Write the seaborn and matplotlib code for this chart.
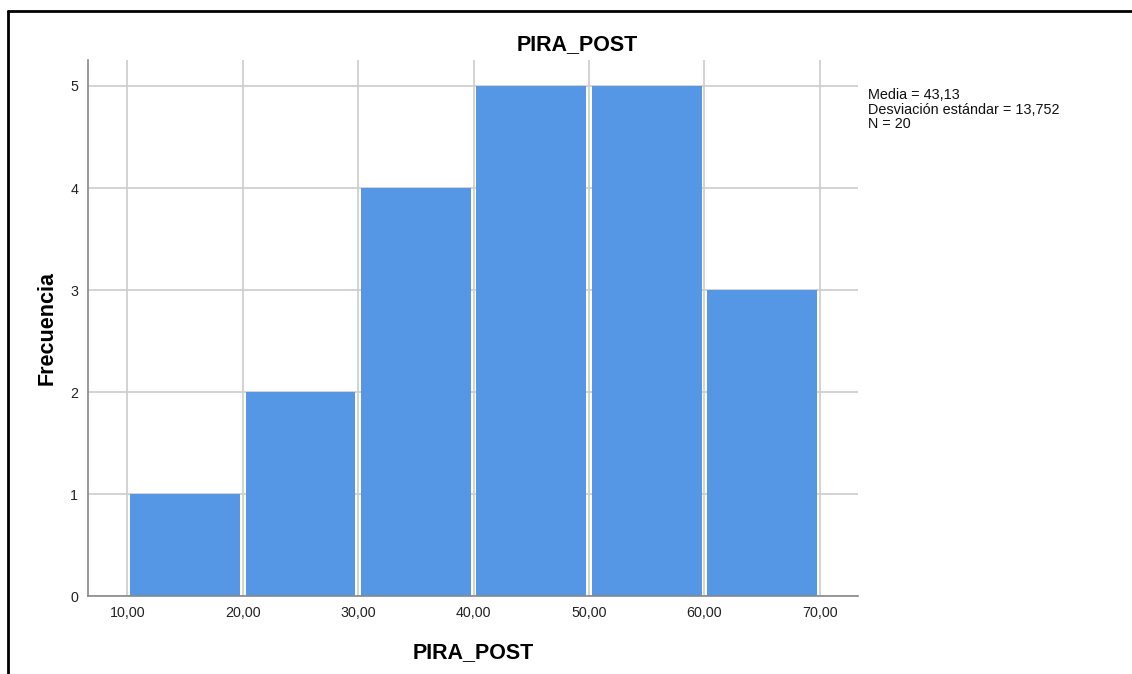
import matplotlib
matplotlib.use('Agg')
import matplotlib.pyplot as plt
from matplotlib.lines import Line2D
import seaborn as sns
import pandas as pd

# datos del histograma (frecuencia por intervalo)
bin_edges = [10, 20, 30, 40, 50, 60, 70]
bin_centers = [15, 25, 35, 45, 55, 65]
frecuencias = [1, 2, 4, 5, 5, 3]
x_ticks = [10, 20, 30, 40, 50, 60, 70]
x_labels = ["10,00", "20,00", "30,00", "40,00", "50,00", "60,00", "70,00"]
y_ticks = [0, 1, 2, 3, 4, 5]
stats_text = "Media = 43,13\nDesviación estándar = 13,752\nN = 20"

df = pd.DataFrame({"PIRA_POST": bin_centers, "freq": frecuencias})

sns.set_style("white")
plt.rcParams['font.family'] = ['Liberation Sans', 'DejaVu Sans']

fig = plt.figure(figsize=(11.32, 6.74), dpi=100)
ax = fig.add_axes([0.0777, 0.1157, 0.6803, 0.7953])

ax.set_axisbelow(True)
ax.grid(True, color="#cccccc", linewidth=1.2)

sns.histplot(data=df, x="PIRA_POST", weights="freq", bins=bin_edges,
             shrink=0.95, color="#5596e5", alpha=1, edgecolor="none", ax=ax)

ax.set_xlim(6.6, 73.3)
ax.set_ylim(0, 5.255)
ax.set_xticks(x_ticks)
ax.set_xticklabels(x_labels)
ax.set_yticks(y_ticks)
ax.tick_params(axis="both", length=0, labelsize=10.3, colors="#222222", pad=7)

for s in ["top", "right"]:
    ax.spines[s].set_visible(False)
for s in ["left", "bottom"]:
    ax.spines[s].set_color("#888888")
    ax.spines[s].set_linewidth(1.2)

# titulo centrado en el grafico completo (no en el eje)
fig.text(0.5097, 0.9258, "PIRA_POST", fontsize=15.5, fontweight="bold",
         ha="center", va="baseline", color="black")
ax.set_xlabel("PIRA_POST", fontsize=15.5, fontweight="bold", labelpad=16, color="black")
ax.set_ylabel("Frecuencia", fontsize=15.5, fontweight="bold", labelpad=9, color="black")

fig.text(0.7668, 0.8694, stats_text, fontsize=10.4, va="top", ha="left",
         linespacing=1.06, color="#111111")

# marco exterior estilo visor SPSS
fig.add_artist(Line2D([0.0075, 1.0], [0.9835, 0.9835], color="black", lw=2,
                      transform=fig.transFigure))
fig.add_artist(Line2D([0.0075, 0.0075], [0.0, 0.9835], color="black", lw=2,
                      transform=fig.transFigure))

fig.savefig("out.png", dpi=100)
plt.close(fig)
